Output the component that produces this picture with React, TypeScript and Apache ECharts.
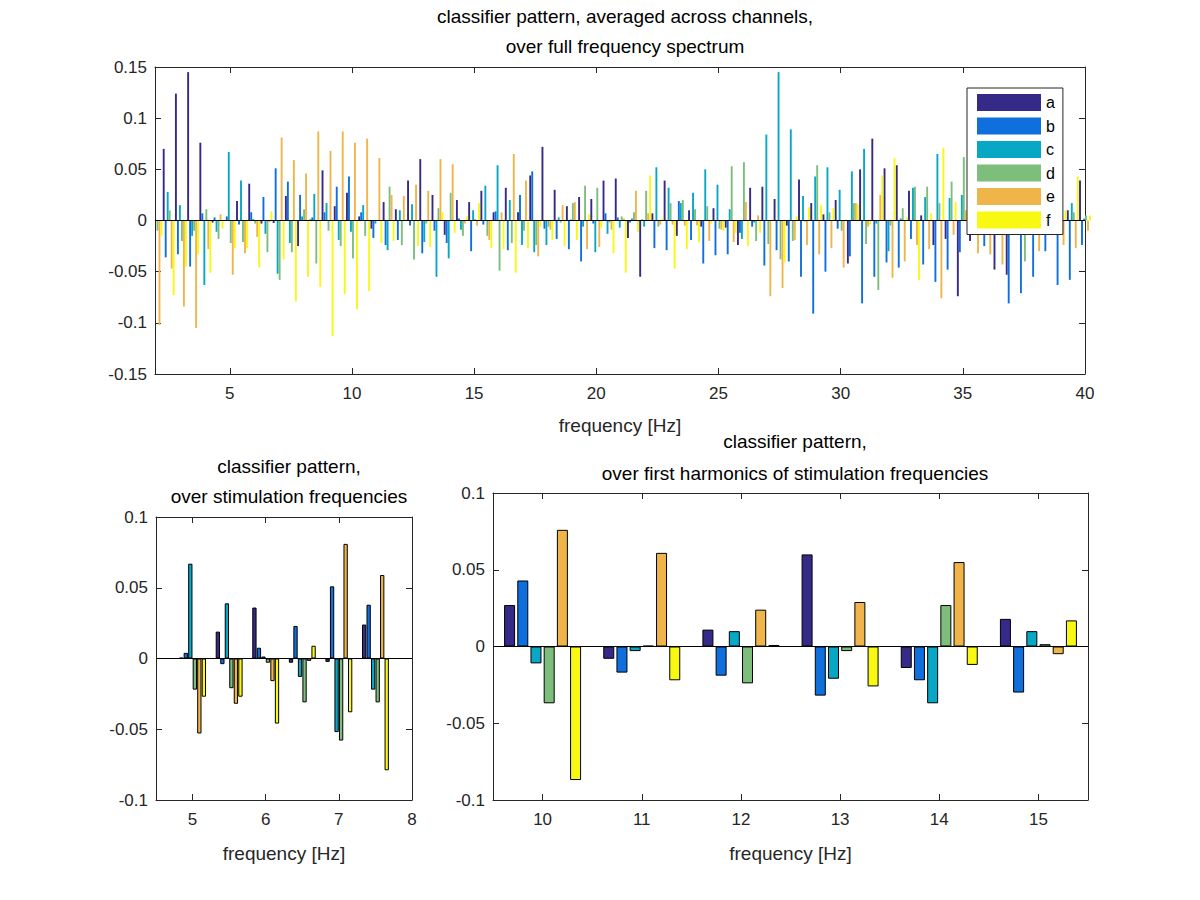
import React, { useEffect, useRef } from "react";
import * as echarts from "echarts";

const seriesNames = ["a", "b", "c", "d", "e", "f"];
const colors = ["#352A87", "#0F6FDD", "#09A7C6", "#7DBE7D", "#F0B54A", "#F8F812"];

const topFreqs = Array.from({ length: 77 }, (_, i) => 2 + i * 0.5);
// rows: frequency groups (2.0 .. 40.0 Hz); columns a..f
const topA = [0,.070,.124,.145,.076,-.002,.0005,.019,.036,-.003,-.0024,.024,-.025,.001,.049,.014,.027,.004,-.008,.018,.011,.039,.060,.025,-.014,.020,.018,.029,.008,.032,.008,.044,.072,.030,.014,.023,.021,.039,.041,-.017,-.055,.007,.039,-.015,.010,-.006,.012,-.007,-.024,.032,.033,.021,-.005,.040,.017,.006,.020,-.042,.050,.080,.051,.054,.029,.005,-.024,-.018,-.074,-.020,.010,-.048,-.053,.030,.020,.015,.020,.010,.039];
const topB = [0,-.036,-.033,-.045,.007,.003,.004,-.004,.008,.023,.051,.038,.025,.003,.008,.033,.043,.008,-.017,-.024,-.019,-.005,-.032,-.010,-.022,.002,-.030,-.004,.009,-.029,.025,.048,-.008,-.018,-.028,-.040,-.003,.007,.003,-.002,.001,-.027,-.029,.019,-.019,-.042,-.034,-.033,-.012,-.006,-.044,-.029,-.040,-.055,-.091,-.050,-.008,-.035,-.081,-.055,-.041,-.046,-.018,-.043,-.060,-.048,-.031,.020,-.025,.020,-.081,-.071,-.055,-.030,-.063,-.058,-.024];
const topC = [0,.028,.015,-.015,-.063,-.011,.067,.039,.0014,-.013,-.052,-.022,.004,.026,.017,-.019,-.011,.015,-.003,-.029,.010,.016,-.021,-.055,-.037,-.009,.010,.034,.054,.020,-.024,-.031,-.024,.003,.001,-.006,-.031,-.013,-.007,.002,-.006,.052,.032,.017,.027,.050,.035,.011,-.018,-.002,.084,.145,.089,.024,.043,.052,.030,.048,.070,-.003,-.030,.002,.032,.023,.065,.022,.025,.015,.030,.010,.020,.015,.030,.025,.010,.017,.002];
const topD = [-.010,.010,-.020,-.010,.011,-.018,-.022,-.021,-.003,-.031,-.058,-.031,.011,-.042,-.010,-.025,-.037,-.015,.0005,.033,-.024,-.038,-.003,.012,.027,-.015,.0015,-.015,-.049,-.022,-.010,-.024,-.006,-.002,.017,.034,.032,-.002,.004,.008,.029,-.006,.017,.020,.011,.014,-.008,.053,.057,-.020,-.023,-.038,-.020,-.001,.054,.008,-.010,.017,-.023,-.068,-.005,.012,.033,.033,.017,.038,.062,.005,.020,.030,.010,-.040,.010,.010,.015,.008,.005];
const topE = [-.102,-.047,-.084,-.105,-.028,.006,-.053,-.032,-.016,-.0017,.081,.059,.046,.087,.068,.087,.076,.080,.061,.025,.024,.035,.029,.060,.055,-.003,-.005,-.019,.008,.065,.039,-.035,-.009,.015,.018,-.028,-.026,-.009,.002,.029,.007,-.004,-.004,-.005,-.005,-.020,-.009,-.021,.018,.005,-.074,-.066,-.019,-.024,-.033,-.027,-.046,.017,-.006,.025,-.056,-.040,-.024,-.028,-.076,-.014,.010,-.032,-.033,-.043,.015,.020,-.030,.020,-.024,-.027,-.010];
const topF = [-.015,-.073,-.045,-.033,-.051,-.008,-.027,-.027,-.046,.009,-.038,-.079,-.055,-.065,-.113,-.072,-.087,-.069,-.022,-.020,.001,-.025,-.026,.008,-.012,.004,.017,-.027,-.028,-.051,-.027,-.006,-.019,-.025,-.019,.006,-.007,-.032,-.051,-.011,.044,.002,-.047,-.028,-.021,-.003,-.010,-.012,-.025,-.012,.001,-.041,.004,.013,.015,.012,.001,.016,-.004,.044,.061,.003,-.058,.007,.071,.018,.015,.010,.015,.020,.020,.010,.015,.020,.010,.043,.005];

const stimFreqs = [5, 5.5, 6, 6.5, 7, 7.5];
const stimA = [.0005, .019, .036, -.003, -.0024, .024];
const stimB = [.004, -.004, .0076, .023, .051, .038];
const stimC = [.067, .039, .0014, -.013, -.052, -.022];
const stimD = [-.022, -.021, -.003, -.031, -.058, -.031];
const stimE = [-.053, -.032, -.016, -.0017, .081, .059];
const stimF = [-.027, -.027, -.046, .009, -.038, -.079];

const harmFreqs = [10, 11, 12, 13, 14, 15];
const harmA = [.027, -.008, .011, .060, -.014, .018];
const harmB = [.043, -.017, -.019, -.032, -.022, -.030];
const harmC = [-.011, -.003, .010, -.021, -.037, .010];
const harmD = [-.037, .0005, -.024, -.003, .027, .0015];
const harmE = [.076, .061, .024, .029, .055, -.005];
const harmF = [-.087, -.022, .001, -.026, -.012, .017];

const topTicks = [5, 10, 15, 20, 25, 30, 35, 40];
const stimTicks = [5, 6, 7, 8];
const harmTicks = [10, 11, 12, 13, 14, 15];

const FONT = "Liberation Sans, Arial, sans-serif";
const TXT = "#262626";

export default function App() {
  const ref = useRef<HTMLDivElement>(null);
  useEffect(() => {
    document.body.style.margin = "0";
    const chart = echarts.init(ref.current!, null, { renderer: "svg" });
    const grids = [
      { left: 155, top: 67, width: 930, height: 307 },
      { left: 156, top: 517, width: 256, height: 283 },
      { left: 493, top: 493, width: 595, height: 307 },
    ];
    const xr = [
      { min: 1.94, max: 40, ticks: topTicks, gap: 42 },
      { min: 4.5, max: 8, ticks: stimTicks, gap: 44 },
      { min: 9.5, max: 15.5, ticks: harmTicks, gap: 44 },
    ];
    const yr = [
      { min: -0.15, max: 0.15, interval: 0.05 },
      { min: -0.1, max: 0.1, interval: 0.05 },
      { min: -0.1, max: 0.1, interval: 0.05 },
    ];
    const axisLine = { show: true, onZero: false, lineStyle: { color: TXT, width: 1 } };
    const tick = (cv?: number[]) => ({ show: true, inside: true, length: 6, customValues: cv, lineStyle: { color: TXT } });
    const xAxis: any[] = [];
    const yAxis: any[] = [];
    grids.forEach((_, g) => {
      xAxis.push({
        type: "value", gridIndex: g, min: xr[g].min, max: xr[g].max, position: "bottom",
        axisLine, splitLine: { show: false }, axisTick: tick(xr[g].ticks),
        axisLabel: { customValues: xr[g].ticks, color: TXT, fontSize: 17, fontFamily: FONT, margin: 11 },
        name: "frequency [Hz]", nameLocation: "middle", nameGap: xr[g].gap,
        nameTextStyle: { color: TXT, fontSize: 19, fontFamily: FONT },
      });
      xAxis.push({
        type: "value", gridIndex: g, min: xr[g].min, max: xr[g].max, position: "top",
        axisLine, splitLine: { show: false }, axisTick: tick(xr[g].ticks),
        axisLabel: { show: false },
      });
      yAxis.push({
        type: "value", gridIndex: g, min: yr[g].min, max: yr[g].max, interval: yr[g].interval, position: "left",
        axisLine, splitLine: { show: false }, axisTick: tick(),
        axisLabel: { color: TXT, fontSize: 17, fontFamily: FONT, margin: 8, formatter: (v: number) => String(+v.toFixed(2)) },
      });
      yAxis.push({
        type: "value", gridIndex: g, min: yr[g].min, max: yr[g].max, interval: yr[g].interval, position: "right",
        axisLine, splitLine: { show: false }, axisTick: tick(),
        axisLabel: { show: false },
      });
    });

    const topData = [topA, topB, topC, topD, topE, topF];
    const stimData = [stimA, stimB, stimC, stimD, stimE, stimF];
    const harmData = [harmA, harmB, harmC, harmD, harmE, harmF];
    const zeroLine = (w: number) => ({
      silent: true, symbol: "none", label: { show: false },
      lineStyle: { color: "#000", width: w, type: "solid" },
      data: [{ yAxis: 0 }],
    });
    const series: any[] = [];
    seriesNames.forEach((n, i) => {
      series.push({
        type: "bar", name: n, xAxisIndex: 0, yAxisIndex: 0, barWidth: 1.9, barGap: "5%",
        itemStyle: { color: colors[i] }, data: topFreqs.map((f, k) => [f, topData[i][k]]),
        markLine: i === 0 ? zeroLine(1.2) : undefined, z: 2,
      });
      series.push({
        type: "bar", name: n, xAxisIndex: 2, yAxisIndex: 2, barWidth: 4.3, barGap: "5%",
        itemStyle: { color: colors[i], borderColor: "#000", borderWidth: 1 },
        data: stimFreqs.map((f, k) => [f, stimData[i][k]]),
        markLine: i === 0 ? zeroLine(1) : undefined,
      });
      series.push({
        type: "bar", name: n, xAxisIndex: 4, yAxisIndex: 4, barWidth: 11, barGap: "20%",
        itemStyle: { color: colors[i], borderColor: "#000", borderWidth: 1 },
        data: harmFreqs.map((f, k) => [f, harmData[i][k]]),
        markLine: i === 0 ? zeroLine(1) : undefined,
      });
    });

    const titleStyle = { color: "#000", fontSize: 19, fontWeight: "normal" as const, fontFamily: FONT, lineHeight: 30 };
    chart.setOption({
      animation: false,
      backgroundColor: "#fff",
      title: [
        { text: "classifier pattern, averaged across channels,\nover full frequency spectrum", left: 620, top: -4, textAlign: "center", textStyle: titleStyle },
        { text: "classifier pattern,\nover stimulation frequencies", left: 284, top: 446, textAlign: "center", textStyle: titleStyle },
        { text: "classifier pattern,\nover first harmonics of stimulation frequencies", left: 790, top: 420, textAlign: "center", textStyle: { ...titleStyle, lineHeight: 32 } },
      ],
      legend: {
        data: seriesNames, orient: "vertical", left: 967, top: 88, icon: "rect",
        itemWidth: 64, itemHeight: 17, itemGap: 6.5, padding: [6, 8, 6, 10],
        borderColor: TXT, borderWidth: 1, backgroundColor: "#fff",
        textStyle: { color: "#000", fontSize: 16, fontFamily: FONT }, z: 10,
      },
      grid: grids,
      xAxis, yAxis, series,
    });
    return () => chart.dispose();
  }, []);
  return <div ref={ref} style={{ width: 1200, height: 900 }} />;
}
